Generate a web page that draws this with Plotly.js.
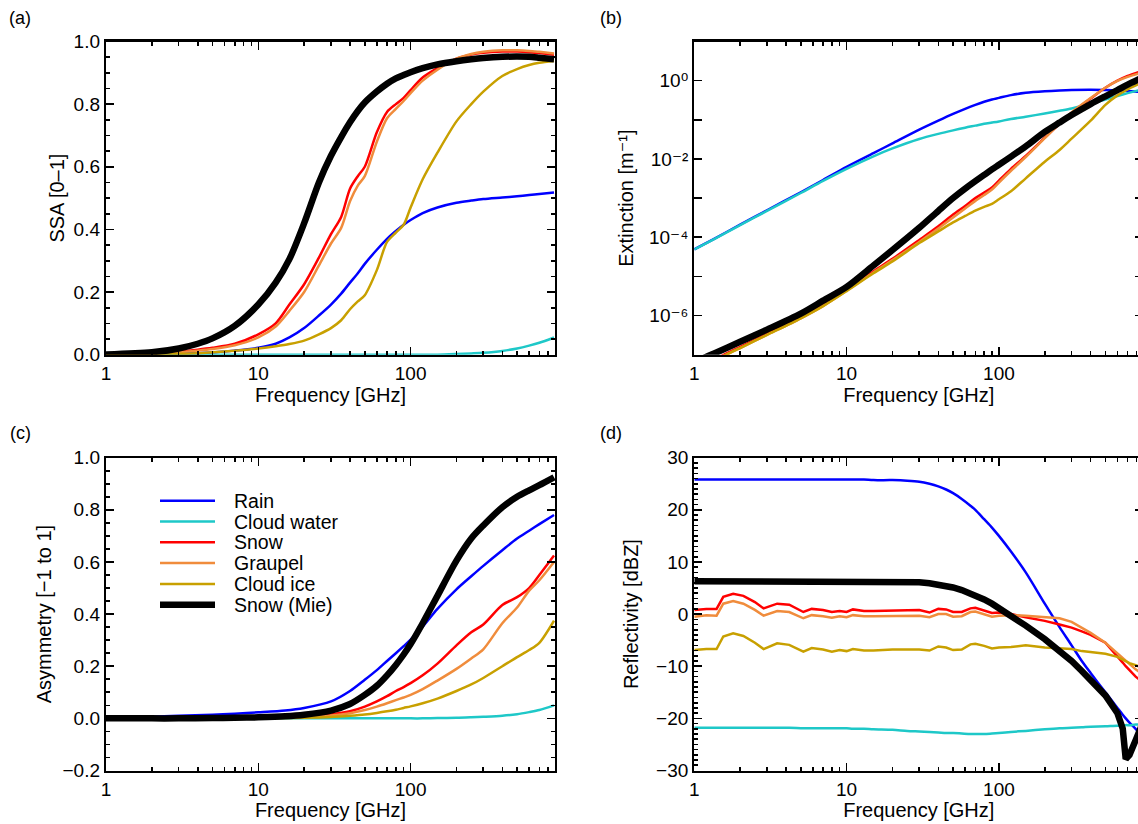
<!DOCTYPE html>
<html><head><meta charset="utf-8">
<script src="https://cdn.plot.ly/plotly-3.0.1.min.js"></script>
<style>html,body{margin:0;padding:0;overflow:hidden;background:#fff}#chart{width:1150px;height:824px}</style>
</head><body><div id="chart"></div><script>
var names = ['Rain','Cloud water','Snow','Graupel','Cloud ice','Snow (Mie)'];
var colors = ['#0000ff','#1ec8c8','#ff0000','#f08c3c','#c8a000','#000000'];
var widths = [2.5,2.5,2.5,2.5,2.5,6.5];
var panelLabels = ['(a)','(b)','(c)','(d)'];
var xTitle = 'Frequency [GHz]';
var yTitles = ['SSA [0\u20131]','Extinction [m\u207B\u00B9]','Asymmetry [\u22121 to 1]','Reflectivity [dBZ]'];
var xTickVals = [1,10,100];
var xTickText = ['1','10','100'];
var extTickVals = [1e-6,1e-4,1e-2,1];
var extTickText = ['10\u207B\u2076','10\u207B\u2074','10\u207B\u00B2','10\u2070'];
var extMinorVals = [1e-7,1e-5,1e-3,1e-1,10];

// (a) single scattering albedo
var aF = [1,2,3,4,5,7,10,13,16,20,25,30,35,40,45,50,60,70,80,90,100,120,150,200,250,300,400,500,600,700,874];
var aRain = [0,0.001,0.003,0.005,0.007,0.013,0.022,0.035,0.055,0.085,0.125,0.16,0.195,0.23,0.26,0.29,0.335,0.37,0.395,0.415,0.43,0.452,0.47,0.485,0.492,0.497,0.502,0.506,0.51,0.513,0.518];
var aCloud = [0,0,0,0,0,0,0,0,0,0,0,0,0,0,0,0,0,0,0,0,0,0,0,0.002,0.004,0.006,0.012,0.02,0.029,0.038,0.055];
var aSnow = [0,0.004,0.01,0.016,0.022,0.035,0.065,0.1,0.16,0.225,0.31,0.385,0.44,0.53,0.57,0.6,0.71,0.775,0.8,0.82,0.845,0.885,0.915,0.945,0.958,0.964,0.968,0.968,0.966,0.963,0.958];
var aGraupel = [0,0.003,0.008,0.013,0.018,0.03,0.055,0.09,0.14,0.2,0.285,0.355,0.405,0.49,0.54,0.57,0.68,0.755,0.785,0.81,0.835,0.875,0.91,0.945,0.96,0.967,0.972,0.972,0.97,0.967,0.962];
var aIce = [0,0.001,0.003,0.005,0.008,0.013,0.02,0.027,0.034,0.045,0.065,0.085,0.11,0.145,0.17,0.19,0.27,0.36,0.39,0.415,0.47,0.56,0.645,0.745,0.8,0.84,0.89,0.912,0.925,0.932,0.938];
var aMie = [0.001,0.008,0.02,0.035,0.052,0.092,0.16,0.23,0.305,0.42,0.55,0.635,0.695,0.742,0.778,0.805,0.84,0.865,0.882,0.893,0.902,0.915,0.927,0.937,0.943,0.947,0.951,0.952,0.951,0.948,0.943];

// (b) extinction [1/m]
var bF = [1,1.35,2,3,5,7,10,15,20,30,40,50,60,70,80,90,100,120,150,200,250,300,400,500,600,700,874];
var bRain = [4.9e-5,9.1e-5,2.1e-4,4.9e-4,1.41e-3,2.9e-3,6.3e-3,1.41e-2,2.5e-2,5.6e-2,9.5e-2,0.141,0.19,0.24,0.288,0.331,0.363,0.427,0.49,0.537,0.562,0.575,0.582,0.575,0.562,0.543,0.513];
var bCloud = [4.9e-5,9.0e-5,2.05e-4,4.7e-4,1.35e-3,2.75e-3,5.6e-3,1.17e-2,1.86e-2,3.24e-2,4.37e-2,5.37e-2,6.3e-2,7.1e-2,7.9e-2,8.5e-2,9.1e-2,0.105,0.12,0.145,0.17,0.195,0.263,0.331,0.407,0.479,0.6];
var bSnow = [4.5e-8,7.6e-8,1.58e-7,3.4e-7,8.9e-7,1.82e-6,4.5e-6,1.35e-5,2.8e-5,8.5e-5,1.9e-4,3.8e-4,6.3e-4,1.0e-3,1.38e-3,1.86e-3,2.8e-3,5.6e-3,1.2e-2,3.5e-2,7.9e-2,0.15,0.35,0.66,1.0,1.32,1.78];
var bGraupel = [4.2e-8,7.1e-8,1.48e-7,3.2e-7,8.5e-7,1.74e-6,4.3e-6,1.26e-5,2.6e-5,7.6e-5,1.66e-4,3.2e-4,5.4e-4,8.5e-4,1.2e-3,1.66e-3,2.5e-3,5.0e-3,1.12e-2,3.4e-2,8.0e-2,0.155,0.36,0.66,0.98,1.25,1.62];
var bIce = [4.2e-8,7.1e-8,1.48e-7,3.2e-7,8.5e-7,1.74e-6,4.2e-6,1.2e-5,2.4e-5,7.1e-5,1.41e-4,2.4e-4,3.5e-4,4.8e-4,6.0e-4,7.1e-4,9.3e-4,1.5e-3,3.2e-3,8.5e-3,1.7e-2,3.3e-2,9.5e-2,0.24,0.42,0.6,0.9];
var bMie = [6.5e-8,1.07e-7,2.14e-7,4.37e-7,1.12e-6,2.4e-6,5.4e-6,1.9e-5,4.7e-5,1.74e-4,4.7e-4,1.0e-3,1.74e-3,2.7e-3,3.9e-3,5.4e-3,7.1e-3,1.15e-2,2.1e-2,4.9e-2,8.5e-2,0.132,0.251,0.398,0.575,0.794,1.2];

// (c) asymmetry parameter
var cF = [1,2,3,5,7,10,15,20,30,40,50,60,70,80,90,100,120,150,200,250,300,400,500,600,700,874];
var cRain = [0.002,0.006,0.01,0.014,0.018,0.023,0.03,0.04,0.065,0.105,0.148,0.185,0.22,0.25,0.277,0.302,0.352,0.42,0.495,0.545,0.585,0.645,0.69,0.72,0.745,0.78];
var cCloud = [0,0,0,0,0,0,0,0,0,0,0,0,0,0,0,0,0,0.001,0.002,0.004,0.006,0.01,0.016,0.024,0.032,0.05];
var cSnow = [0,0,0,0,0.001,0.002,0.004,0.007,0.015,0.027,0.045,0.065,0.085,0.105,0.12,0.135,0.165,0.21,0.28,0.33,0.36,0.435,0.465,0.5,0.55,0.625];
var cGraupel = [0,0,0,0,0,0.001,0.003,0.005,0.011,0.02,0.032,0.045,0.058,0.07,0.08,0.09,0.112,0.145,0.19,0.23,0.265,0.365,0.425,0.49,0.53,0.6];
var cIce = [0,0,0,0,0,0,0.001,0.002,0.005,0.01,0.015,0.021,0.027,0.033,0.04,0.046,0.058,0.076,0.105,0.13,0.155,0.2,0.235,0.262,0.29,0.375];
var cMie = [0,0,0,0.001,0.002,0.004,0.008,0.014,0.03,0.055,0.09,0.125,0.165,0.205,0.245,0.285,0.365,0.47,0.605,0.69,0.74,0.81,0.85,0.875,0.895,0.925];

// (d) radar reflectivity [dBZ]
var dF = [1,1.2,1.4,1.55,1.8,2.1,2.5,2.85,3.5,4.2,5.2,5.9,7,8,9,10,11,13,15,20,25,30,35,40,45,50,57,65,70,80,90,100,120,150,200,250,300,350,400,500,600,650,680,720,790,874];
var dRain = [25.8,25.8,25.8,25.8,25.8,25.8,25.8,25.8,25.8,25.8,25.8,25.8,25.8,25.8,25.8,25.8,25.8,25.8,25.7,25.7,25.6,25.4,25.0,24.5,23.9,23.2,22.1,20.8,20.0,18.2,16.6,15.0,12.0,8.0,2.0,-2.5,-6.0,-9.0,-11.3,-15.0,-18.0,-19.3,-20.0,-20.8,-22.0,-23.5];
var dCloud = [-21.8,-21.8,-21.8,-21.8,-21.8,-21.8,-21.8,-21.8,-21.8,-21.8,-21.9,-21.9,-21.9,-21.9,-21.9,-21.9,-22.0,-22.0,-22.1,-22.2,-22.4,-22.5,-22.6,-22.7,-22.8,-22.8,-22.9,-23.0,-23.0,-23.0,-22.9,-22.8,-22.6,-22.4,-22.1,-21.9,-21.8,-21.7,-21.6,-21.5,-21.4,-21.4,-21.3,-21.3,-21.2,-21.2];
var dSnow = [0.8,1.0,1.0,3.3,3.9,3.5,2.3,1.1,2.0,1.8,0.4,1.0,0.8,0.4,0.6,0.4,0.9,0.6,0.6,0.7,0.8,0.8,0.3,1.0,0.9,0.4,0.4,1.1,1.2,0.6,0.2,0.3,0.0,-0.6,-1.3,-2.0,-2.6,-3.3,-4.0,-5.5,-8.0,-9.3,-10.0,-10.8,-12.0,-13.0];
var dGraupel = [-0.5,-0.2,-0.3,2.0,2.5,2.0,0.8,-0.3,0.6,0.4,-0.8,-0.2,-0.4,-0.7,-0.4,-0.6,-0.2,-0.4,-0.4,-0.4,-0.3,-0.3,-0.6,0.0,0.0,-0.5,-0.4,0.4,0.5,-0.1,-0.5,-0.3,-0.2,-0.3,-0.6,-0.8,-1.5,-2.6,-3.6,-5.5,-7.5,-8.4,-8.9,-9.6,-10.6,-11.5];
var dIce = [-6.9,-6.7,-6.7,-4.3,-3.7,-4.2,-5.5,-6.7,-5.6,-5.9,-7.2,-6.5,-6.8,-7.2,-6.9,-7.1,-6.7,-7.0,-7.0,-6.8,-6.8,-6.8,-7.0,-6.2,-6.4,-6.9,-6.8,-5.8,-5.7,-6.1,-6.6,-6.4,-6.3,-6.0,-6.4,-6.5,-6.7,-7.1,-7.3,-7.6,-8.2,-8.8,-9.0,-9.4,-9.8,-10.3];
var dMie = [6.3,6.3,6.3,6.3,6.3,6.3,6.3,6.3,6.3,6.3,6.3,6.3,6.3,6.3,6.3,6.3,6.3,6.3,6.3,6.3,6.2,6.1,5.9,5.7,5.4,5.1,4.6,4.0,3.6,2.8,2.0,1.2,-0.3,-2.2,-4.8,-7.0,-9.0,-10.9,-12.6,-15.6,-19.0,-22.0,-27.8,-27.0,-24.2,-21.0];

var panels = [
  {f:aF, s:[aRain,aCloud,aSnow,aGraupel,aIce,aMie], xa:'x', ya:'y', jag:[]},
  {f:bF, s:[bRain,bCloud,bSnow,bGraupel,bIce,bMie], xa:'x2', ya:'y2', jag:[]},
  {f:cF, s:[cRain,cCloud,cSnow,cGraupel,cIce,cMie], xa:'x3', ya:'y3', jag:[]},
  {f:dF, s:[dRain,dCloud,dSnow,dGraupel,dIce,dMie], xa:'x4', ya:'y4', jag:[2,3,4,5]}
];

var traces = [];
panels.forEach(function(p){
  p.s.forEach(function(vals, i){
    var jag = p.jag.indexOf(i) >= 0;
    traces.push({type:'scatter', mode:'lines', x:p.f, y:vals, xaxis:p.xa, yaxis:p.ya,
      name:names[i], showlegend:false, hoverinfo:'skip',
      line:{color:colors[i], width:widths[i], shape:(jag?'linear':'spline'), smoothing:0.8}});
  });
});

var W = 1150, H = 824;
var FONT = 'Liberation Sans, Arial, Helvetica, DejaVu Sans, sans-serif';
function px(x){return x/W;}
function py(y){return 1 - y/H;}
var tickStyle = {ticks:'inside', tickcolor:'#000', tickwidth:1.6};
var common = {showline:true, linecolor:'#000', linewidth:2.2, mirror:'allticks', ticks:'inside',
  ticklen:8, tickwidth:1.6, tickcolor:'#000', showgrid:false, zeroline:false,
  tickfont:{family:FONT, size:19, color:'#000'}, layer:'above traces'};
function xax(dom, anchor){
  return Object.assign({}, common, {type:'log', domain:dom, anchor:anchor, range:[0, Math.log10(887)],
    tickvals:xTickVals, ticktext:xTickText,
    minor:Object.assign({ticklen:4, tickvals:[2,3,4,5,6,7,8,9,20,30,40,50,60,70,80,90,200,300,400,500,600,700,800]}, tickStyle),
    ticklabelstandoff:0,
    title:{text:xTitle, font:{family:FONT, size:20, color:'#000'}, standoff:0}});
}
function yax(dom, anchor, extra, title, so){
  return Object.assign({}, common, {domain:dom, anchor:anchor,
    title:{text:title, font:{family:FONT, size:20, color:'#000'}, standoff:so}}, extra);
}
var xL = [px(106), px(555)], xR = [px(694.3), px(1143.3)];
var yT = [py(354.7), py(41.5)], yB = [py(770.5), py(457.7)];

var annotations = [];
var labPos = [[20,18],[611,18],[20,433],[611,433]];
panelLabels.forEach(function(t, i){
  annotations.push({text:t, xref:'paper', yref:'paper', x:px(labPos[i][0]), y:py(labPos[i][1]),
    xanchor:'center', yanchor:'middle', showarrow:false, font:{family:FONT, size:18, color:'#000'}});
});
// legend in panel (c)
var shapes = [];
names.forEach(function(n, i){
  var yy = 500.7 + 20.8*i;
  shapes.push({type:'line', xref:'paper', yref:'paper', x0:px(160), x1:px(215), y0:py(yy), y1:py(yy),
    line:{color:colors[i], width:(i===5?6.5:2.5)}});
  annotations.push({text:n, xref:'paper', yref:'paper', x:px(232), y:py(yy), xanchor:'left', yanchor:'middle',
    showarrow:false, font:{family:FONT, size:19.5, color:'#000'}});
});

var layout = {
  width:W, height:H, margin:{l:0,r:0,t:0,b:0}, paper_bgcolor:'#fff', plot_bgcolor:'#fff',
  showlegend:false, font:{family:FONT, color:'#000'},
  xaxis: xax(xL, 'y'),
  yaxis: yax(yT, 'x', {range:[0,1], dtick:0.2, tickformat:'.1f',
    minor:Object.assign({ticklen:4, dtick:0.05}, tickStyle)}, yTitles[0], 4),
  xaxis2: xax(xR, 'y2'),
  yaxis2: yax(yT, 'x2', {type:'log', range:[-7,1], tickvals:extTickVals, ticktext:extTickText,
    minor:Object.assign({ticklen:8, tickvals:extMinorVals}, tickStyle)}, yTitles[1], 10),
  xaxis3: xax(xL, 'y3'),
  yaxis3: yax(yB, 'x3', {range:[-0.2,1.0], dtick:0.2, tickformat:'.1f',
    minor:Object.assign({ticklen:4, dtick:0.05}, tickStyle)}, yTitles[2], 6),
  xaxis4: xax(xR, 'y4'),
  yaxis4: yax(yB, 'x4', {range:[-30,30], dtick:10,
    minor:Object.assign({ticklen:4, dtick:1}, tickStyle)}, yTitles[3], 12),
  annotations: annotations, shapes: shapes
};
Plotly.newPlot('chart', traces, layout, {staticPlot:true, displayModeBar:false});
</script></body></html>
